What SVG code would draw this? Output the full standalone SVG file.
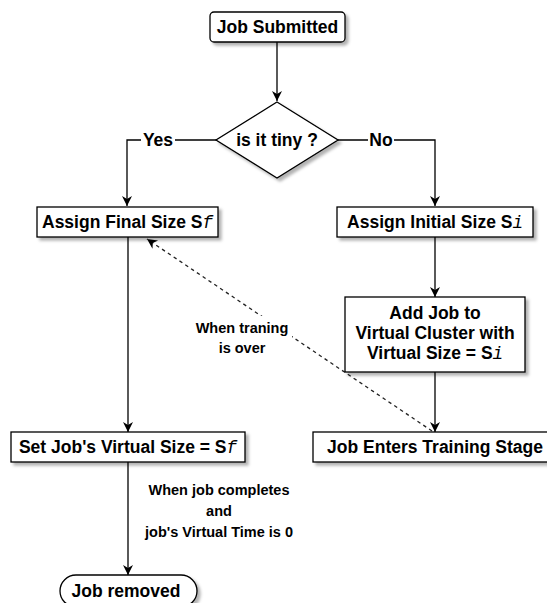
<svg xmlns="http://www.w3.org/2000/svg" width="547" height="603" viewBox="0 0 547 603">
<style>
.n{fill:#fff;stroke:#000;stroke-width:1.3;filter:url(#sh)}
.t{font-family:"Liberation Sans",Arial,sans-serif;font-weight:bold;font-size:17.5px;fill:#000;text-anchor:middle}
.l{font-family:"Liberation Sans",Arial,sans-serif;font-weight:bold;font-size:14.5px;fill:#000;text-anchor:middle}
.s{font-family:"Liberation Mono","Courier New",monospace;font-style:italic;font-weight:normal}
.c{fill:none;stroke:#000;stroke-width:1.3}
.d{stroke-dasharray:3.5 3.5;stroke:#222}
</style>
<defs>
<filter id="sh" x="-20%" y="-20%" width="140%" height="160%">
<feDropShadow dx="3" dy="3" stdDeviation="1.5" flood-color="#000" flood-opacity="0.3"/>
</filter>
<marker id="a" markerUnits="userSpaceOnUse" markerWidth="12" markerHeight="12" viewBox="0 0 12 12" refX="11" refY="6" orient="auto">
<path d="M1,1 L11,6 L1,11 L4,6 z" fill="#000"/>
</marker>
</defs>
<g id="connectors">
<path class="c" d="M277,42 V101" marker-end="url(#a)"/>
<path class="c" d="M217,140 H127 V206" marker-end="url(#a)"/>
<path class="c" d="M338,140 H435 V206" marker-end="url(#a)"/>
<path class="c" d="M435,237 V297" marker-end="url(#a)"/>
<path class="c" d="M435,372 V432" marker-end="url(#a)"/>
<path class="c" d="M128,237 V432" marker-end="url(#a)"/>
<path class="c" d="M128,462 V575" marker-end="url(#a)"/>
<path class="c d" d="M432,431 L147,239" marker-end="url(#a)"/>
<rect x="141" y="129" width="34" height="22" fill="#fff"/>
<text class="t" x="158" y="146">Yes</text>
<rect x="368" y="129" width="26" height="22" fill="#fff"/>
<text class="t" x="381" y="146">No</text>
<rect x="192" y="316" width="100" height="42" fill="#fff"/>
<text class="l" x="242" y="333">When traning</text>
<text class="l" x="242" y="353">is over</text>
<text class="l" x="219" y="495">When job completes</text>
<text class="l" x="219" y="516">and</text>
<text class="l" x="219" y="537">job's Virtual Time is 0</text>
</g>
<g id="job-submitted">
<rect class="n" x="210" y="12" width="135" height="30" rx="4"/>
<text class="t" x="277.5" y="33">Job Submitted</text>
</g>
<g id="is-tiny">
<path class="n" d="M277,102 L338,140 L277,178 L216,140 z"/>
<text class="t" x="277" y="146">is it tiny ?</text>
</g>
<g id="assign-final">
<rect class="n" x="37" y="207" width="181" height="30"/>
<text class="t" x="127.5" y="228">Assign Final Size S<tspan class="s">f</tspan></text>
</g>
<g id="assign-initial">
<rect class="n" x="337" y="207" width="196" height="30"/>
<text class="t" x="435" y="228">Assign Initial Size S<tspan class="s">i</tspan></text>
</g>
<g id="add-job">
<rect class="n" x="345" y="297" width="180" height="75"/>
<text class="t" x="435" y="319">Add Job to</text>
<text class="t" x="435" y="339">Virtual Cluster with</text>
<text class="t" x="435" y="359">Virtual Size = S<tspan class="s">i</tspan></text>
</g>
<g id="set-virtual-size">
<rect class="n" x="11" y="432" width="234" height="30"/>
<text class="t" x="128" y="453">Set Job's Virtual Size = S<tspan class="s">f</tspan></text>
</g>
<g id="job-enters-training">
<rect class="n" x="313" y="432" width="246" height="30"/>
<text class="t" x="435" y="453">Job Enters Training Stage</text>
</g>
<g id="job-removed">
<rect class="n" x="60" y="575" width="137" height="32" rx="16"/>
<text class="t" x="126" y="597">Job removed</text>
</g>
</svg>
